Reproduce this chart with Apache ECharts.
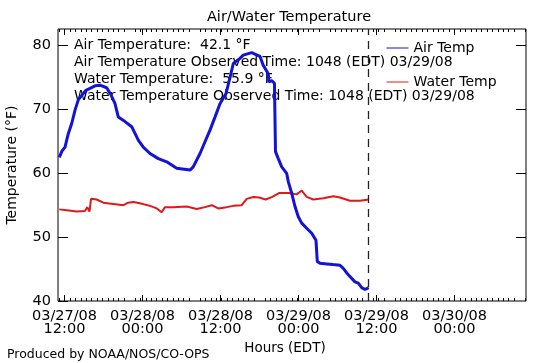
<!DOCTYPE html>
<html>
<head>
<meta charset="utf-8">
<script src="https://cdn.jsdelivr.net/npm/echarts@6/dist/echarts.min.js"></script>
<style>
html,body{margin:0;padding:0;background:#fff;}
#chart{width:539px;height:363px;}
</style>
</head>
<body>
<div id="chart"></div>
<script>
// Hours relative to 03/27/08 12:00 EDT
var airHours = [-0.8,-0.38,0.08,0.58,1.11,1.62,2.12,2.65,3.3,3.92,4.7,5.46,6.49,7.15,7.77,8.28,9.31,10.34,11.35,12.12,13.15,14.43,15.72,17.26,19.3,19.8,20.85,21.6,22.4,23.15,23.92,24.85,25.46,25.97,27.0,27.5,28.8,29.46,30.08,30.58,31.35,31.45,31.88,32.3,32.46,32.89,33.42,34.18,34.43,34.95,35.46,35.97,36.49,37.26,38.03,38.69,38.89,39.31,40.34,41.3,42.38,42.89,43.66,44.69,45.2,45.72,46.23,46.8];
var airTemps = [62.5,63.5,64.1,66.2,67.8,69.9,71.5,72.2,73.0,73.3,73.7,73.8,73.4,72.3,70.9,68.8,68.1,67.3,65.2,64.1,63.1,62.3,61.8,60.8,60.5,61.0,63.1,64.9,66.8,68.8,70.9,72.5,75.0,77.2,78.0,78.5,78.9,78.6,78.3,76.9,75.6,74.3,74.5,74.1,63.4,62.3,61.0,60.0,58.7,56.9,54.8,53.2,52.2,51.4,50.6,49.5,46.2,45.9,45.8,45.7,45.6,45.1,44.1,43.0,42.8,42.1,41.8,42.1];
var waterHours = [-0.8,0.34,1.88,3.15,3.5,3.85,4.08,4.95,5.97,7.5,9.05,9.8,10.58,11.6,13.15,14.2,14.95,15.46,16.74,18.8,20.34,21.6,22.65,23.66,24.95,25.97,27.26,28.03,29.05,29.92,30.95,31.97,33.0,34.54,35.72,36.49,37.26,38.28,39.82,41.35,42.38,43.92,45.46,46.8];
var waterTemps = [54.35,54.2,54.0,54.1,54.7,54.0,56.0,55.9,55.4,55.2,55.0,55.4,55.5,55.3,54.9,54.5,53.9,54.7,54.7,54.8,54.4,54.7,55.0,54.5,54.7,54.9,55.0,56.0,56.3,56.2,55.9,56.3,56.9,56.9,56.7,57.3,56.3,55.9,56.1,56.4,56.2,55.7,55.7,55.9];
var obsHour = 46.8; // 03/29/08 10:48
var xTickHours = [0,12,24,36,48,60];
var xTickLabels = ['03/27/08\n12:00','03/28/08\n00:00','03/28/08\n12:00','03/29/08\n00:00','03/29/08\n12:00','03/30/08\n00:00'];
var yTicks = [40,50,60,70,80];
var yTicksRight = [50,60,70,80];
var annotationLines = [
  'Air Temperature:  42.1 \u00B0F',
  'Air Temperature Observed Time: 1048 (EDT) 03/29/08',
  'Water Temperature:  55.9 \u00B0F',
  'Water Temperature Observed Time: 1048 (EDT) 03/29/08'
];

var xMin = -1, xMax = 71;
function zip(a, b) { return a.map(function (v, i) { return [v, b[i]]; }); }

var FONT = 'DejaVu Sans';
var chart = echarts.init(document.getElementById('chart'), null, {renderer: 'canvas'});

function xAxisDef(pos, showLabel) {
  var ax = {
    type: 'value', position: pos, min: xMin, max: xMax,
    axisLine: {show: false, onZero: false},
    axisTick: {show: true, inside: true, length: 6, customValues: xTickHours, lineStyle: {color: '#000', width: 1}},
    minorTick: {show: true, splitNumber: 12, length: 3, lineStyle: {color: '#000', width: 1}},
    axisLabel: showLabel ? {
      show: true, customValues: xTickHours, color: '#000', fontFamily: FONT, fontSize: 14.5, lineHeight: 13, margin: 9,
      formatter: function (v) { var i = xTickHours.indexOf(v); return i >= 0 ? xTickLabels[i] : ''; }
    } : {show: false},
    splitLine: {show: false}, minorSplitLine: {show: false}
  };
  if (showLabel) {
    ax.name = 'Hours (EDT)';
    ax.nameLocation = 'middle';
    ax.nameGap = 38;
    ax.nameTextStyle = {fontFamily: FONT, fontSize: 13.5, color: '#000', padding: [0, 14, 0, 0]};
  }
  return ax;
}

var texts = annotationLines.map(function (t, i) {
  return {type: 'text', x: 74, y: 45 + i * 17, silent: true,
    style: {text: t, fill: '#000', font: '14px "' + FONT + '"', verticalAlign: 'middle', align: 'left'}};
});
texts.push({type: 'text', x: 7, y: 355, silent: true,
  style: {text: 'Produced by NOAA/NOS/CO-OPS', fill: '#000', font: '12.5px "' + FONT + '"', verticalAlign: 'middle'}});

chart.setOption({
  animation: false,
  backgroundColor: '#fff',
  title: {text: 'Air/Water Temperature', left: 284, top: 5, textAlign: 'center',
    textStyle: {fontFamily: FONT, fontSize: 14.5, fontWeight: 'normal', color: '#000'}},
  grid: {left: 58, right: 13, top: 29, bottom: 62, containLabel: false, outerBoundsMode: 'none',
    show: true, borderColor: '#000', borderWidth: 1, backgroundColor: 'transparent'},
  legend: {orient: 'vertical', left: 381, top: 36, itemWidth: 22, itemHeight: 14, itemGap: 20,
    data: ['Air Temp', 'Water Temp'],
    textStyle: {fontFamily: FONT, fontSize: 14, color: '#000'},
    lineStyle: {width: 1}, itemStyle: {opacity: 0}},
  xAxis: [
    xAxisDef('bottom', true),
    xAxisDef('top', false)
  ],
  yAxis: [
    {type: 'value', position: 'left', min: 40, max: 82.6,
      name: 'Temperature (\u00B0F)', nameLocation: 'middle', nameGap: 39, nameRotate: 90,
      nameTextStyle: {fontFamily: FONT, fontSize: 14, color: '#000'},
      axisLine: {show: false, onZero: false},
      axisTick: {show: true, inside: true, length: 10, customValues: yTicks, lineStyle: {color: '#000', width: 1}},
      axisLabel: {customValues: yTicks, color: '#000', fontFamily: FONT, fontSize: 14.5, margin: 7},
      splitLine: {show: false}},
    {type: 'value', position: 'right', min: 40, max: 82.6,
      axisLine: {show: false, onZero: false},
      axisTick: {show: true, inside: true, length: 10, customValues: yTicksRight, lineStyle: {color: '#000', width: 1}},
      axisLabel: {show: false}, splitLine: {show: false}}
  ],
  series: [
    {name: 'Air Temp', type: 'line', xAxisIndex: 0, yAxisIndex: 0, data: zip(airHours, airTemps),
      symbol: 'none', color: '#1212d8', lineStyle: {color: '#1212d8', width: 3}, z: 3,
      markLine: {silent: true, symbol: 'none', label: {show: false},
        lineStyle: {color: '#222', type: [8, 6], width: 1.3},
        data: [{xAxis: obsHour}]}},
    {name: 'Water Temp', type: 'line', xAxisIndex: 0, yAxisIndex: 0, data: zip(waterHours, waterTemps),
      symbol: 'none', color: '#e01818', lineStyle: {color: '#e01818', width: 2}, z: 2}
  ],
  graphic: texts
});
</script>
</body>
</html>
